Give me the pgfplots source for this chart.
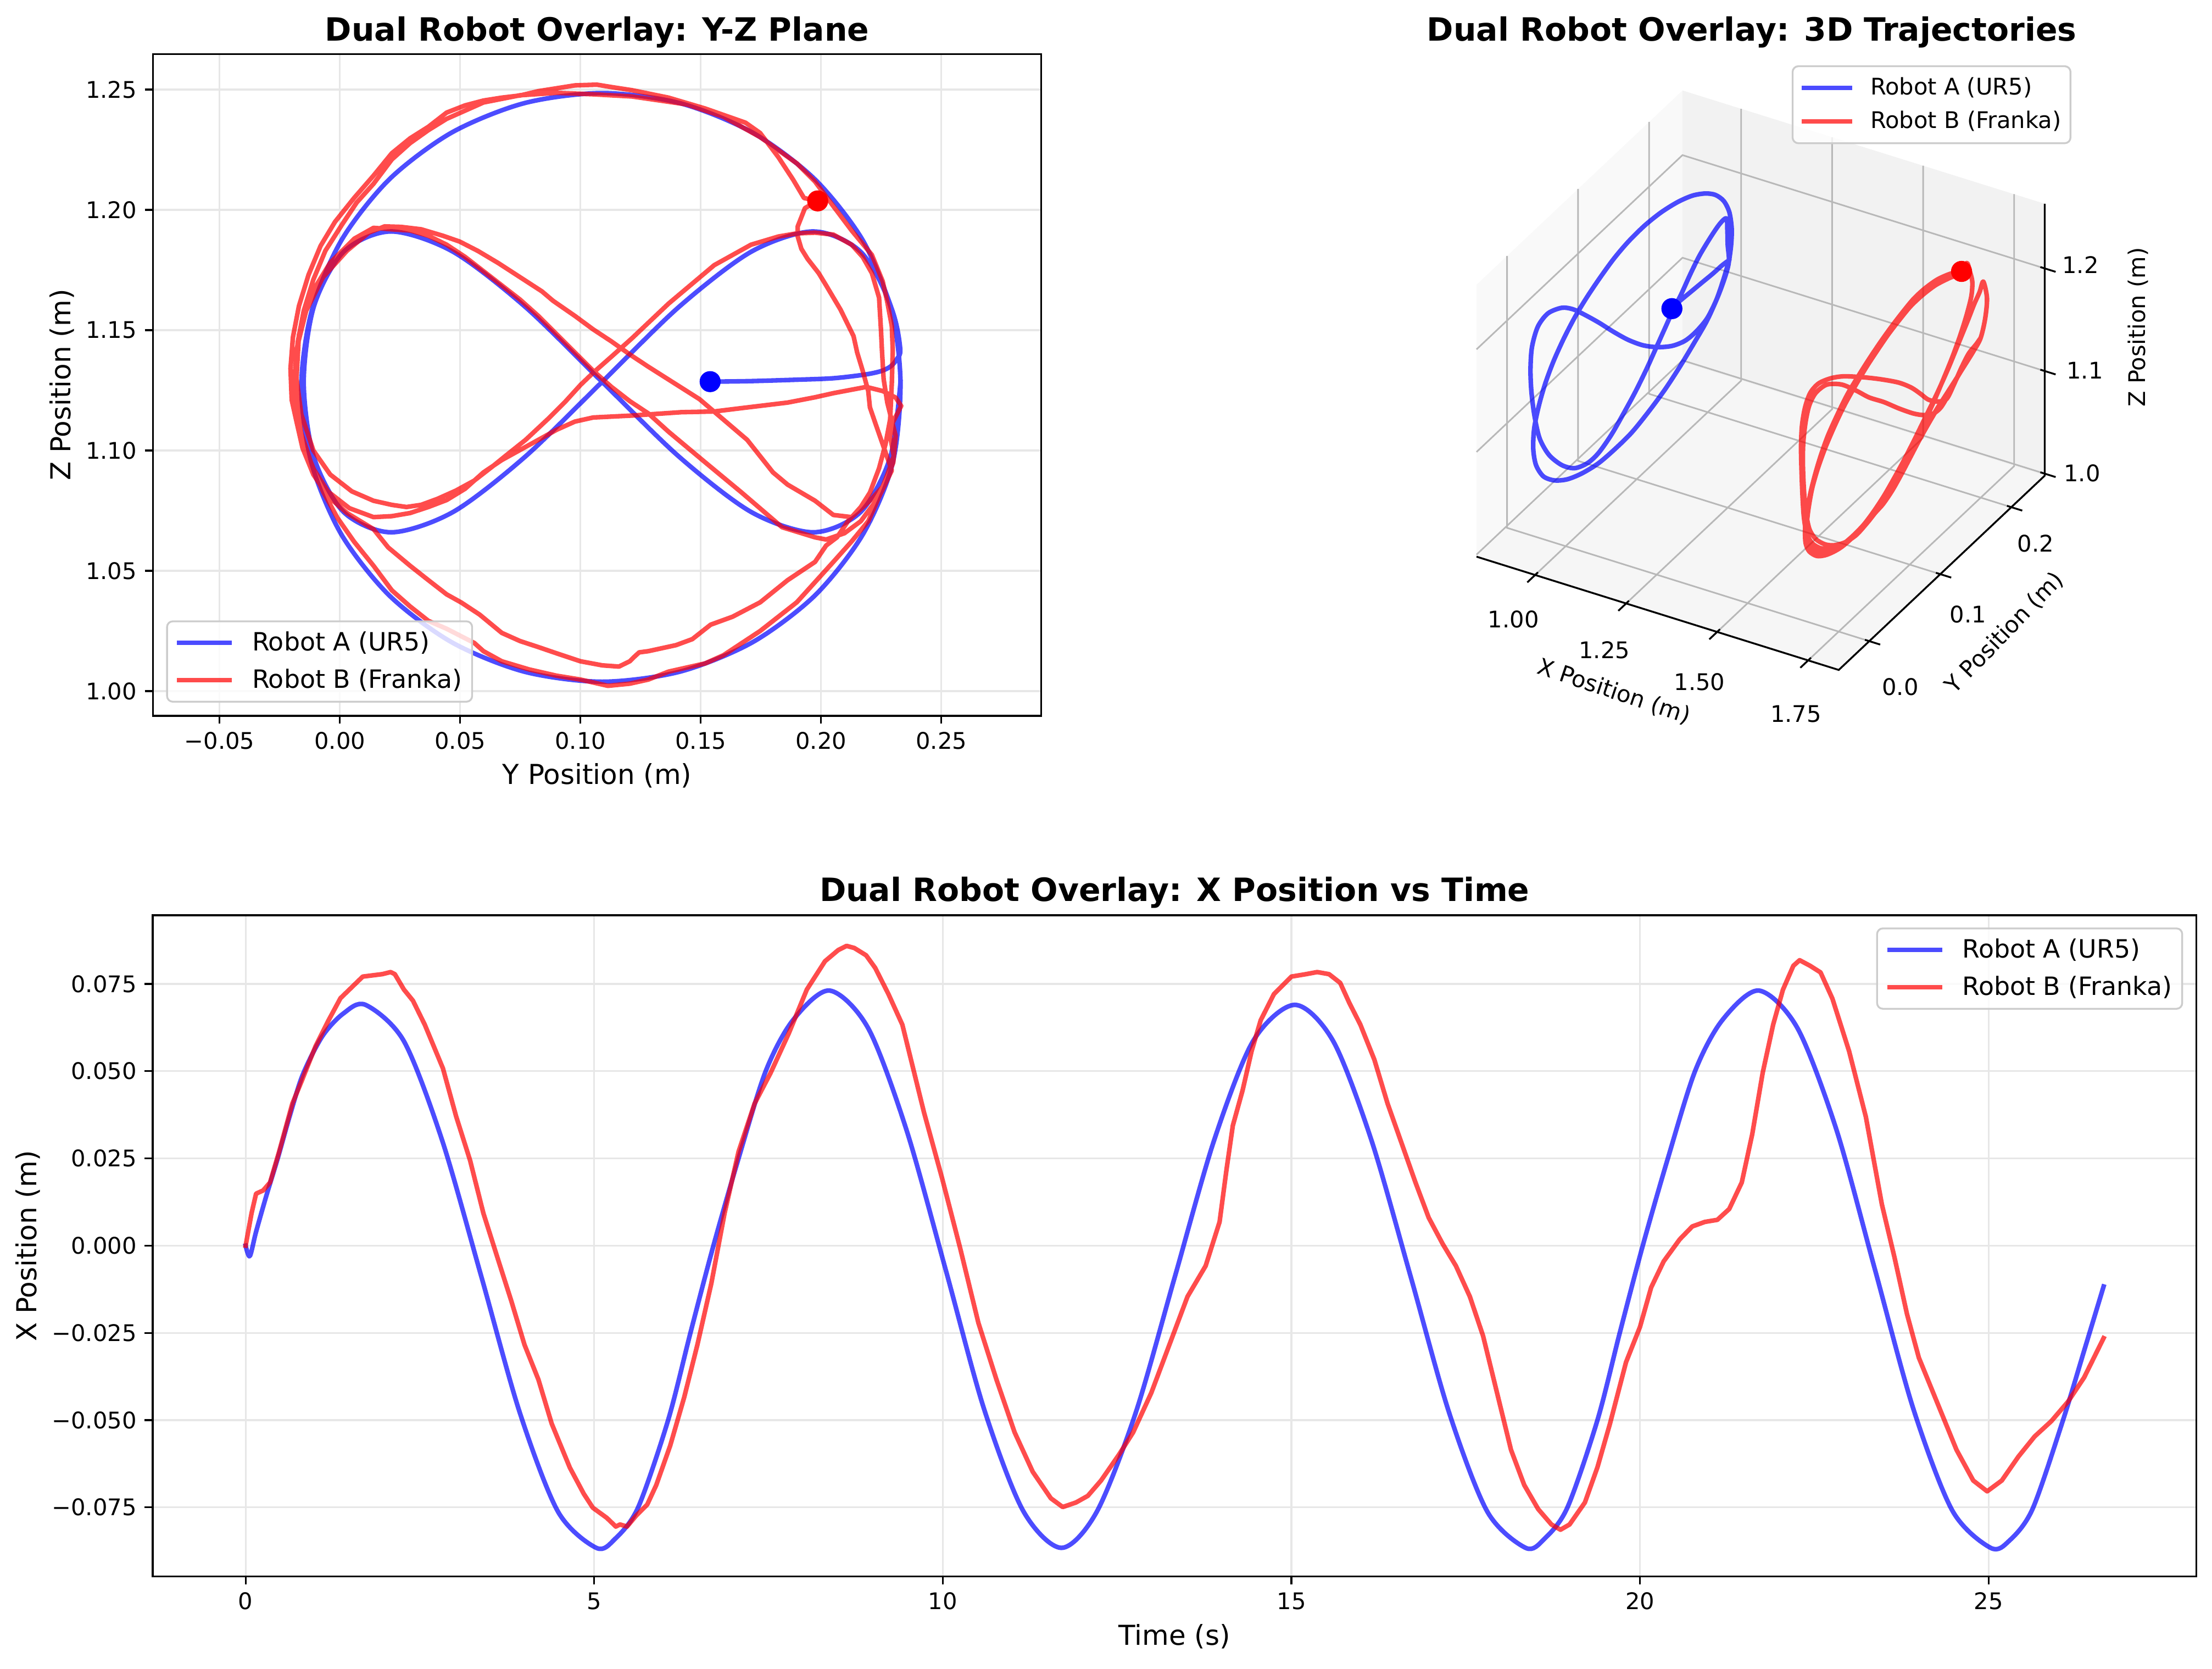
\documentclass[border=0pt]{standalone}
\usepackage{fontspec}
\setmainfont{DejaVu Sans}
\usepackage{pgfplots}
\pgfplotsset{compat=1.18}
\definecolor{mblue}{rgb}{0,0,1}
\definecolor{mred}{rgb}{1,0,0}
\definecolor{gridc}{rgb}{0.907,0.907,0.907}
\definecolor{grid3d}{rgb}{0.72,0.72,0.72}
\definecolor{paneX}{rgb}{0.975,0.975,0.975}
\definecolor{paneY}{rgb}{0.95,0.95,0.95}
\definecolor{paneZ}{rgb}{0.9625,0.9625,0.9625}
\definecolor{legframe}{rgb}{0.8,0.8,0.8}
\pgfplotsset{
  robA/.style={draw=mblue, draw opacity=0.7, line width=2pt, line join=round, line cap=rect, mark=none},
  robB/.style={draw=mred, draw opacity=0.7, line width=2pt, line join=round, line cap=rect, mark=none},
  mpl2d/.style={
    scale only axis,
    scaled ticks=false,
    axis line style={line width=0.8pt},
    tick align=outside, tick pos=left,
    major tick length=3.5pt,
    tick style={black, line width=0.8pt},
    tick label style={font=\fontsize{10}{12}\selectfont},
    grid=major,
    grid style={draw=gridc, line width=0.8pt},
    legend cell align=left,
    legend image code/.code={\draw[##1] (0pt,0pt) -- (22pt,0pt);},
    legend style={draw=legframe, line width=0.8pt, rounded corners=2.5pt, fill=white, fill opacity=0.8, text opacity=1, draw opacity=1, inner xsep=4.4pt, inner ysep=4.45pt, row sep=6.5pt, column sep=8.8pt, font=\fontsize{11}{13}\selectfont, nodes={inner sep=0pt, text depth=0.15em}, cells={anchor=west}},
  },
}
\begin{document}
\begin{tikzpicture}
\path[use as bounding box] (0pt,0pt) rectangle (966.48pt,728.88pt);

% ---------------- Y-Z plane ----------------
\begin{axis}[mpl2d,
  at={(66.79pt,416.18pt)}, anchor=south west,
  width=388.15pt, height=289.06pt,
  xmin=-0.0777, xmax=0.2915, ymin=0.98975, ymax=1.2647,
  xtick={-0.05,0,0.05,0.1,0.15,0.2,0.25},
  xticklabels={−0.05,0.00,0.05,0.10,0.15,0.20,0.25},
  ytick={1,1.05,1.1,1.15,1.2,1.25},
  yticklabels={1.00,1.05,1.10,1.15,1.20,1.25},
  legend style={at={(0.01494,0.01989)}, anchor=south west},
]
\addplot[robA, smooth] coordinates {
(0.1539,1.1286) (0.1700,1.1288) (0.1900,1.1294) (0.2050,1.1300) (0.2180,1.1315) (0.2250,1.1330) (0.2290,1.1350) (0.2315,1.1380) (0.2329,1.1422)
(0.2297,1.1579) (0.2173,1.1874) (0.1974,1.2127) (0.1715,1.2321) (0.1414,1.2443) (0.1090,1.2485) (0.0766,1.2443) (0.0465,1.2321) (0.0206,1.2127) (0.0007,1.1874) (-0.0117,1.1579) (-0.0160,1.1262) (-0.0117,1.0945) (0.0007,1.0650) (0.0206,1.0397) (0.0465,1.0203) (0.0766,1.0081) (0.1090,1.0039) (0.1414,1.0081) (0.1715,1.0203) (0.1974,1.0397) (0.2173,1.0650) (0.2297,1.0945)
(0.2330,1.1285) (0.2288,1.1598) (0.2164,1.1826) (0.1967,1.1910) (0.1710,1.1826) (0.1411,1.1598) (0.1090,1.1285) (0.0769,1.0973) (0.0470,1.0744) (0.0213,1.0660) (0.0016,1.0744) (-0.0108,1.0973) (-0.0150,1.1285) (-0.0108,1.1598) (0.0016,1.1826) (0.0213,1.1910) (0.0470,1.1826) (0.0769,1.1598) (0.1090,1.1285) (0.1411,1.0973) (0.1710,1.0744) (0.1967,1.0660) (0.2164,1.0744) (0.2288,1.0973) (0.2330,1.1285)
};
\addlegendentry{Robot A (UR5)}
\addplot[robB] coordinates {
(0.1986,1.2037) (0.1929,1.2049) (0.1884,1.2125) (0.1823,1.2218) (0.1747,1.2319) (0.1686,1.2362) (0.1518,1.2421) (0.1366,1.2466) (0.1214,1.2497) (0.1129,1.2510) (0.1068,1.2520) (0.0977,1.2517) (0.0901,1.2505) (0.0825,1.2493) (0.0749,1.2475) (0.0673,1.2466) (0.0597,1.2454) (0.0521,1.2434) (0.0444,1.2404) (0.0368,1.2345) (0.0292,1.2297) (0.0216,1.2235) (0.0140,1.2142)
(0.0060,1.2050) (-0.0020,1.1950) (-0.0080,1.1850) (-0.0130,1.1730) (-0.0170,1.1600) (-0.0195,1.1470) (-0.0205,1.1340) (-0.0200,1.1210) (-0.0180,1.1120) (-0.0155,1.1010) (-0.0110,1.0900) (-0.0050,1.0810) (0.0030,1.0740) (0.0140,1.0673)
(0.0201,1.0597) (0.0292,1.0521) (0.0368,1.0461) (0.0444,1.0402) (0.0505,1.0368) (0.0581,1.0318) (0.0673,1.0242) (0.0749,1.0208) (0.0825,1.0183) (0.0901,1.0157) (0.1000,1.0124) (0.1091,1.0107) (0.1160,1.0102) (0.1205,1.0124) (0.1221,1.0140) (0.1244,1.0161) (0.1282,1.0166) (0.1397,1.0191) (0.1465,1.0216) (0.1541,1.0276) (0.1632,1.0309) (0.1747,1.0369) (0.1861,1.0461) (0.1975,1.0537) (0.2021,1.0605) (0.2066,1.0639) (0.2112,1.0706) (0.2165,1.0765) (0.2203,1.0825) (0.2241,1.0926) (0.2268,1.1027) (0.2287,1.1129) (0.2294,1.1280) (0.2298,1.1416) (0.2294,1.1517) (0.2275,1.1618) (0.2256,1.1703) (0.2211,1.1813) (0.2127,1.1914) (0.2051,1.2015)
(0.1975,1.2117) (0.1899,1.2193) (0.1747,1.2302) (0.1594,1.2387) (0.1442,1.2438) (0.1214,1.2471) (0.1053,1.2480) (0.0901,1.2486) (0.0749,1.2476) (0.0597,1.2446) (0.0444,1.2378) (0.0368,1.2331) (0.0292,1.2277) (0.0216,1.2209) (0.0140,1.2108) (0.0070,1.2030) (0.0010,1.1940) (-0.0060,1.1830) (-0.0110,1.1710) (-0.0150,1.1580) (-0.0175,1.1450) (-0.0185,1.1320) (-0.0180,1.1190) (-0.0160,1.1070) (-0.0120,1.0950) (-0.0070,1.0830) (-0.0010,1.0720) (0.0060,1.0620) (0.0140,1.0521)
(0.0216,1.0419) (0.0292,1.0352) (0.0368,1.0292) (0.0444,1.0259) (0.0559,1.0200) (0.0597,1.0166) (0.0673,1.0124) (0.0787,1.0090) (0.0901,1.0064) (0.1000,1.0048) (0.1114,1.0022) (0.1205,1.0031) (0.1282,1.0048) (0.1366,1.0081) (0.1518,1.0115) (0.1594,1.0149) (0.1747,1.0250) (0.1899,1.0369) (0.1975,1.0453) (0.2051,1.0537) (0.2127,1.0622) (0.2196,1.0706) (0.2234,1.0791) (0.2279,1.0909) (0.2302,1.0977) (0.2287,1.1061) (0.2295,1.1110) (0.2317,1.1154) (0.2333,1.1185) (0.2310,1.1220)
(0.2256,1.1247) (0.2188,1.1264) (0.2051,1.1238) (0.1975,1.1221) (0.1861,1.1199) (0.1670,1.1176) (0.1556,1.1162) (0.1419,1.1159) (0.1214,1.1145) (0.1053,1.1137) (0.0977,1.1120) (0.0901,1.1086) (0.0825,1.1044) (0.0749,1.1002) (0.0673,1.0960) (0.0597,1.0909) (0.0521,1.0841) (0.0444,1.0794) (0.0368,1.0765) (0.0292,1.0740) (0.0216,1.0727) (0.0140,1.0723)
(0.0040,1.0760) (-0.0050,1.0830) (-0.0120,1.0940) (-0.0170,1.1080) (-0.0190,1.1250) (-0.0180,1.1420) (-0.0140,1.1580) (-0.0070,1.1720) (0.0030,1.1830) (0.0120,1.1905)
(0.0186,1.1931) (0.0254,1.1929) (0.0338,1.1919) (0.0429,1.1892) (0.0498,1.1868) (0.0574,1.1829) (0.0658,1.1779) (0.0749,1.1720) (0.0840,1.1661) (0.0886,1.1622) (0.0977,1.1559) (0.1053,1.1503) (0.1129,1.1453) (0.1205,1.1399) (0.1282,1.1348) (0.1495,1.1213) (0.1693,1.1044) (0.1800,1.0909) (0.1861,1.0858) (0.1975,1.0791) (0.2051,1.0732) (0.2127,1.0723) (0.2203,1.0791) (0.2264,1.0858) (0.2300,1.0950) (0.2310,1.1060) (0.2275,1.1200)
(0.2260,1.1297) (0.2253,1.1416) (0.2249,1.1500) (0.2241,1.1635) (0.2211,1.1737) (0.2173,1.1804) (0.2127,1.1855) (0.2051,1.1897) (0.1975,1.1905) (0.1899,1.1902) (0.1823,1.1889) (0.1709,1.1855) (0.1556,1.1770) (0.1366,1.1610) (0.1214,1.1466)
(0.1129,1.1390) (0.1053,1.1323) (0.1000,1.1272) (0.0939,1.1205) (0.0863,1.1129) (0.0772,1.1044) (0.0688,1.0977) (0.0635,1.0934) (0.0559,1.0875) (0.0482,1.0833) (0.0406,1.0799) (0.0338,1.0774) (0.0277,1.0765) (0.0216,1.0774) (0.0140,1.0791)
(0.0050,1.0830) (-0.0040,1.0900) (-0.0110,1.1000) (-0.0160,1.1150) (-0.0180,1.1300) (-0.0170,1.1480) (-0.0120,1.1650) (-0.0040,1.1780) (0.0060,1.1880) (0.0140,1.1925)
(0.0216,1.1919) (0.0292,1.1914) (0.0368,1.1892) (0.0444,1.1855) (0.0521,1.1804) (0.0597,1.1745) (0.0673,1.1686) (0.0749,1.1627) (0.0825,1.1559) (0.0901,1.1483) (0.0977,1.1407) (0.1053,1.1331) (0.1129,1.1264) (0.1205,1.1205) (0.1282,1.1154) (0.1366,1.1078) (0.1518,1.0951) (0.1670,1.0825) (0.1838,1.0681) (0.1975,1.0639) (0.2021,1.0630) (0.2097,1.0656) (0.2165,1.0706) (0.2241,1.0808) (0.2294,1.0917)
(0.2226,1.1112) (0.2203,1.1179) (0.2196,1.1247) (0.2173,1.1331) (0.2150,1.1407) (0.2135,1.1475) (0.2081,1.1585) (0.2021,1.1686) (0.1990,1.1737) (0.1944,1.1796) (0.1918,1.1838) (0.1903,1.1889) (0.1903,1.1931) (0.1933,1.2007) (0.1986,1.2037)
};
\addlegendentry{Robot B (Franka)}
\addplot[only marks, mark=*, mark size=4.4pt, color=mblue, forget plot] coordinates {(0.1539,1.1286)};
\addplot[only marks, mark=*, mark size=4.4pt, color=mred, forget plot] coordinates {(0.1986,1.2037)};
\end{axis}

% ---------------- X vs time ----------------
\begin{axis}[mpl2d,
  at={(66.72pt,40.18pt)}, anchor=south west,
  width=892.9pt, height=288.9pt,
  xmin=-1.333, xmax=27.98, ymin=-0.0948, ymax=0.0947,
  xtick={0,5,10,15,20,25}, xticklabels={0,5,10,15,20,25},
  ytick={-0.075,-0.05,-0.025,0,0.025,0.05,0.075},
  yticklabels={−0.075,−0.050,−0.025,0.000,0.025,0.050,0.075},
  legend style={at={(0.99355,0.98138)}, anchor=north east},
]
\addplot[robA, smooth] coordinates {
(0,0) (0.06,-0.003) (0.15,0.004) (0.3,0.0145) (0.46,0.025) (0.63,0.037) (0.82,0.049) (1.1,0.060) (1.4,0.0665) (1.72,0.069)
(2.27,0.0586) (2.82,0.0301) (3.38,-0.0088) (3.93,-0.0477) (4.48,-0.0762) (5.03,-0.0866)
(5.3,-0.084) (5.63,-0.075) (6.06,-0.05) (6.38,-0.025) (6.71,0) (7.07,0.025) (7.46,0.05) (7.85,0.0646) (8.375,0.0731)
(8.93,0.0623) (9.48,0.0331) (10.04,-0.0068) (10.59,-0.0467) (11.15,-0.0759) (11.70,-0.0866)
(12.21,-0.0762) (12.77,-0.0477) (13.33,-0.0088) (13.89,0.0301) (14.45,0.0586) (15.05,0.069)
(15.60,0.0586) (16.15,0.0301) (16.71,-0.0088) (17.26,-0.0477) (17.81,-0.0762) (18.36,-0.0866)
(18.63,-0.084) (18.96,-0.075) (19.39,-0.05) (19.71,-0.025) (20.04,0) (20.40,0.025) (20.79,0.05) (21.18,0.0646) (21.705,0.0731)
(22.26,0.0623) (22.82,0.0331) (23.37,-0.0068) (23.92,-0.0467) (24.48,-0.0759) (25.03,-0.0866)
(25.30,-0.0845) (25.63,-0.0755) (26.06,-0.0505) (26.38,-0.0295) (26.65,-0.0117)
};
\addlegendentry{Robot A (UR5)}
\addplot[robB] coordinates {
(0,0) (0.085,0.0093) (0.15,0.0149) (0.25,0.0158) (0.35,0.0181) (0.48,0.0269) (0.67,0.0407) (0.80,0.047) (1.0,0.057) (1.19,0.0646) (1.36,0.0709) (1.52,0.074) (1.68,0.0771) (1.96,0.0778) (2.08,0.0784) (2.14,0.0778) (2.27,0.0734) (2.40,0.0702) (2.57,0.0633) (2.83,0.0508) (3.02,0.037) (3.22,0.0244) (3.41,0.0093) (3.61,-0.0033) (3.81,-0.0158) (4.0,-0.0284) (4.20,-0.0384) (4.39,-0.051) (4.65,-0.0636) (4.85,-0.0711) (4.98,-0.0751) (5.18,-0.078) (5.31,-0.0805) (5.37,-0.0799) (5.47,-0.0805) (5.60,-0.0774) (5.76,-0.0742) (5.89,-0.0686) (6.09,-0.0573) (6.29,-0.0435) (6.48,-0.0284) (6.68,-0.0108) (6.87,0.0093) (7.07,0.0269) (7.30,0.0407) (7.53,0.0495) (7.79,0.0608) (8.05,0.0734) (8.31,0.0815) (8.5,0.0847) (8.62,0.0859) (8.73,0.0853) (8.90,0.0832) (9.03,0.0796) (9.22,0.0721) (9.42,0.0633) (9.73,0.0382) (9.99,0.0193) (10.25,-0.0008) (10.51,-0.0221) (10.77,-0.0384) (11.03,-0.0535) (11.29,-0.0648) (11.55,-0.0724) (11.72,-0.0749) (11.91,-0.0736) (12.08,-0.0717) (12.27,-0.0673) (12.53,-0.0598) (12.73,-0.0535) (12.99,-0.0422) (13.25,-0.0284) (13.51,-0.0146) (13.77,-0.0058) (13.97,0.0068) (14.07,0.0219) (14.16,0.0344) (14.30,0.0445) (14.43,0.0558) (14.56,0.0646) (14.75,0.0721) (15.0,0.0771) (15.21,0.0778) (15.37,0.0784) (15.54,0.0778) (15.70,0.0753) (15.83,0.0696) (15.99,0.0633) (16.19,0.0533) (16.38,0.0407) (16.58,0.0294) (16.78,0.0181) (16.97,0.008) (17.17,0.0005) (17.36,-0.0058) (17.56,-0.0146) (17.75,-0.0259) (17.95,-0.0422) (18.15,-0.0585) (18.34,-0.0686) (18.54,-0.0755) (18.73,-0.0799) (18.86,-0.0814) (18.99,-0.0799) (19.21,-0.0736) (19.39,-0.0635) (19.57,-0.051) (19.80,-0.0334) (20.0,-0.0233) (20.16,-0.012) (20.34,-0.0045) (20.57,0.0018) (20.75,0.0055) (20.93,0.0068) (21.11,0.0074) (21.28,0.0105) (21.46,0.0181) (21.61,0.0319) (21.76,0.0495) (21.91,0.0633) (22.05,0.0733) (22.20,0.0802) (22.29,0.0818) (22.44,0.0802) (22.59,0.0783) (22.76,0.0708) (23.0,0.0557) (23.24,0.0369) (23.47,0.0118) (23.65,-0.0033) (23.83,-0.0196) (24.0,-0.0321) (24.18,-0.0409) (24.36,-0.0497) (24.54,-0.0585) (24.78,-0.0673) (24.98,-0.0704) (25.19,-0.0673) (25.43,-0.0604) (25.66,-0.0547) (25.90,-0.0503) (26.14,-0.0447) (26.37,-0.0378) (26.65,-0.0265)
};
\addlegendentry{Robot B (Franka)}
\end{axis}

% ---------------- 3D ----------------
\begin{axis}[
  at={(645.12pt,436.20pt)}, anchor=south west,
  x={(159.05pt,-49.75pt)}, y={(310.34pt,292.63pt)}, z={(0pt,448.3pt)},
  xmin=0.839, xmax=1.834, ymin=-0.043, ymax=0.247, zmin=0.998, zmax=1.263,
  hide axis, clip=false,
  legend cell align=left,
  legend image code/.code={\draw[#1] (0pt,0pt) -- (20pt,0pt);},
  legend style={at={(1.0470,1.0434)}, anchor=north east, draw=legframe, line width=0.8pt, rounded corners=2.5pt, fill=white, fill opacity=0.8, text opacity=1, draw opacity=1, inner xsep=4.05pt, inner ysep=4.97pt, row sep=5.5pt, column sep=7.95pt, font=\fontsize{10}{12}\selectfont, nodes={inner sep=0pt, text depth=0.15em}, cells={anchor=west}},
]
\fill[paneX] (axis cs:0.839,-0.043,0.998) -- (axis cs:0.839,0.247,0.998) -- (axis cs:0.839,0.247,1.263) -- (axis cs:0.839,-0.043,1.263) -- cycle;
\fill[paneY] (axis cs:0.839,0.247,0.998) -- (axis cs:1.834,0.247,0.998) -- (axis cs:1.834,0.247,1.263) -- (axis cs:0.839,0.247,1.263) -- cycle;
\fill[paneZ] (axis cs:0.839,-0.043,0.998) -- (axis cs:1.834,-0.043,0.998) -- (axis cs:1.834,0.247,0.998) -- (axis cs:0.839,0.247,0.998) -- cycle;
\draw[grid3d, line width=0.7pt] (axis cs:1,-0.043,0.998) -- (axis cs:1,0.247,0.998) -- (axis cs:1,0.247,1.263);
\draw[grid3d, line width=0.7pt] (axis cs:1.25,-0.043,0.998) -- (axis cs:1.25,0.247,0.998) -- (axis cs:1.25,0.247,1.263);
\draw[grid3d, line width=0.7pt] (axis cs:1.5,-0.043,0.998) -- (axis cs:1.5,0.247,0.998) -- (axis cs:1.5,0.247,1.263);
\draw[grid3d, line width=0.7pt] (axis cs:1.75,-0.043,0.998) -- (axis cs:1.75,0.247,0.998) -- (axis cs:1.75,0.247,1.263);
\draw[grid3d, line width=0.7pt] (axis cs:1.834,0,0.998) -- (axis cs:0.839,0,0.998) -- (axis cs:0.839,0,1.263);
\draw[grid3d, line width=0.7pt] (axis cs:1.834,0.1,0.998) -- (axis cs:0.839,0.1,0.998) -- (axis cs:0.839,0.1,1.263);
\draw[grid3d, line width=0.7pt] (axis cs:1.834,0.2,0.998) -- (axis cs:0.839,0.2,0.998) -- (axis cs:0.839,0.2,1.263);
\draw[grid3d, line width=0.7pt] (axis cs:0.839,-0.043,1) -- (axis cs:0.839,0.247,1) -- (axis cs:1.834,0.247,1);
\draw[grid3d, line width=0.7pt] (axis cs:0.839,-0.043,1.1) -- (axis cs:0.839,0.247,1.1) -- (axis cs:1.834,0.247,1.1);
\draw[grid3d, line width=0.7pt] (axis cs:0.839,-0.043,1.2) -- (axis cs:0.839,0.247,1.2) -- (axis cs:1.834,0.247,1.2);
\draw[black, line width=0.8pt] (axis cs:0.839,-0.043,0.998) -- (axis cs:1.834,-0.043,0.998) -- (axis cs:1.834,0.247,0.998) -- (axis cs:1.834,0.247,1.263);
\draw[black, line width=0.8pt] (axis cs:1,-0.039,0.998) -- (axis cs:1,-0.054,0.998);
\draw[black, line width=0.8pt] (axis cs:1.25,-0.039,0.998) -- (axis cs:1.25,-0.054,0.998);
\draw[black, line width=0.8pt] (axis cs:1.5,-0.039,0.998) -- (axis cs:1.5,-0.054,0.998);
\draw[black, line width=0.8pt] (axis cs:1.75,-0.039,0.998) -- (axis cs:1.75,-0.054,0.998);
\draw[black, line width=0.8pt] (axis cs:1.822,0,0.998) -- (axis cs:1.864,0,0.998);
\draw[black, line width=0.8pt] (axis cs:1.822,0.1,0.998) -- (axis cs:1.864,0.1,0.998);
\draw[black, line width=0.8pt] (axis cs:1.822,0.2,0.998) -- (axis cs:1.864,0.2,0.998);
\draw[black, line width=0.8pt] (axis cs:1.822,0.247,1) -- (axis cs:1.864,0.247,1);
\draw[black, line width=0.8pt] (axis cs:1.822,0.247,1.1) -- (axis cs:1.864,0.247,1.1);
\draw[black, line width=0.8pt] (axis cs:1.822,0.247,1.2) -- (axis cs:1.864,0.247,1.2);
\addplot3[robA, smooth] coordinates {
(0.99,0.1547,1.1274) (0.99,0.1656,1.1276) (0.99,0.1811,1.1264) (0.99,0.1967,1.1252) (0.99,0.2122,1.1239) (0.99,0.2251,1.1235) (0.99,0.2330,1.1224)
(0.99,0.2350,1.1213) (0.99,0.2381,1.1351) (0.99,0.2389,1.1505) (0.99,0.2356,1.1685) (0.99,0.2278,1.1845) (0.99,0.2161,1.1981) (0.99,0.2019,1.2088) (0.99,0.1837,1.2186) (0.99,0.1630,1.2259) (0.99,0.1397,1.2311) (0.99,0.1164,1.2334) (0.99,0.0931,1.2327) (0.99,0.0724,1.2293) (0.99,0.0517,1.2230) (0.99,0.0335,1.2160) (0.99,0.0180,1.2082) (0.99,0.0023,1.1975) (0.99,-0.0120,1.1849) (0.99,-0.0237,1.1707) (0.99,-0.0327,1.1549) (0.99,-0.0392,1.1372) (0.99,-0.0405,1.1181) (0.99,-0.0366,1.0998) (0.99,-0.0262,1.0820) (0.99,-0.0107,1.0680) (0.99,0.0075,1.0572) (0.99,0.0282,1.0495) (0.99,0.0515,1.0442) (0.99,0.0748,1.0429) (0.99,0.0981,1.0436) (0.99,0.1214,1.0483) (0.99,0.1447,1.0549) (0.99,0.1654,1.0633) (0.99,0.1861,1.0736) (0.99,0.2043,1.0836) (0.99,0.2198,1.0973) (0.99,0.2302,1.1104) (0.99,0.2350,1.1213)
(0.99,0.2333,1.1381) (0.99,0.2328,1.1523) (0.99,0.2315,1.1652) (0.99,0.2224,1.1661) (0.99,0.2095,1.1616) (0.99,0.1939,1.1539) (0.99,0.1810,1.1444) (0.99,0.1680,1.1331) (0.99,0.1564,1.1248) (0.99,0.1447,1.1145) (0.99,0.1318,1.1031) (0.99,0.1188,1.0917) (0.99,0.1033,1.0800) (0.99,0.0877,1.0703) (0.99,0.0696,1.0602) (0.99,0.0515,1.0542) (0.99,0.0360,1.0544) (0.99,0.0178,1.0613) (0.99,-0.0003,1.0761) (0.99,-0.0184,1.0979) (0.99,-0.0314,1.1222) (0.99,-0.0387,1.1488) (0.99,-0.0431,1.1755) (0.99,-0.0444,1.1982) (0.99,-0.0423,1.2186) (0.99,-0.0340,1.2331) (0.99,-0.0198,1.2367) (0.99,-0.0003,1.2294) (0.99,0.0152,1.2179) (0.99,0.0307,1.2028) (0.99,0.0515,1.1813) (0.99,0.0722,1.1588) (0.99,0.0929,1.1374) (0.99,0.1137,1.1185) (0.99,0.1344,1.1031) (0.99,0.1552,1.0908) (0.99,0.1733,1.0840) (0.99,0.1889,1.0828) (0.99,0.2043,1.0856) (0.99,0.2172,1.0950) (0.99,0.2263,1.1070) (0.99,0.2315,1.1155) (0.99,0.2350,1.1213)
};
\addlegendentry{Robot A (UR5)}
\addplot3[robB, smooth, tension=0.5] coordinates {
(1.70,0.1986,1.2138) (1.70,0.1826,1.2219) (1.70,0.1644,1.2282) (1.70,0.1463,1.2310) (1.70,0.1307,1.2311) (1.70,0.1152,1.2282) (1.70,0.0996,1.2243) (1.70,0.0841,1.2194) (1.70,0.0685,1.2135) (1.70,0.0530,1.2066) (1.70,0.0374,1.1986) (1.70,0.0232,1.1879) (1.70,0.0102,1.1763) (1.70,-0.0001,1.1630) (1.70,-0.0079,1.1500) (1.70,-0.0144,1.1362) (1.70,-0.0191,1.1211) (1.70,-0.0217,1.1067) (1.70,-0.0209,1.0922) (1.70,-0.0157,1.0807) (1.70,-0.0053,1.0696) (1.70,0.0063,1.0627) (1.70,0.0180,1.0583) (1.70,0.0297,1.0555) (1.70,0.0426,1.0547) (1.70,0.0556,1.0553) (1.70,0.0685,1.0569) (1.70,0.0815,1.0604) (1.70,0.0945,1.0671) (1.70,0.1074,1.0746) (1.70,0.1204,1.0833) (1.70,0.1333,1.0919) (1.70,0.1463,1.1014) (1.70,0.1592,1.1121) (1.70,0.1722,1.1247) (1.70,0.1852,1.1383) (1.70,0.1968,1.1528) (1.70,0.2059,1.1670) (1.70,0.2124,1.1808) (1.70,0.2137,1.1940) (1.70,0.2098,1.2075) (1.70,0.2059,1.2172)
(1.70,0.1955,1.2139) (1.70,0.1800,1.2190) (1.70,0.1618,1.2243) (1.70,0.1437,1.2266) (1.70,0.1268,1.2266) (1.70,0.1113,1.2237) (1.70,0.0957,1.2198) (1.70,0.0802,1.2143) (1.70,0.0646,1.2080) (1.70,0.0491,1.2001) (1.70,0.0335,1.1908) (1.70,0.0193,1.1794) (1.70,0.0063,1.1667) (1.70,-0.0040,1.1535) (1.70,-0.0118,1.1395) (1.70,-0.0170,1.1228) (1.70,-0.0196,1.1064) (1.70,-0.0180,1.0928) (1.70,-0.0113,1.0803) (1.70,0.0006,1.0685) (1.70,0.0146,1.0609) (1.70,0.0297,1.0572) (1.70,0.0452,1.0560) (1.70,0.0608,1.0569) (1.70,0.0750,1.0607) (1.70,0.0893,1.0664) (1.70,0.1035,1.0742) (1.70,0.1178,1.0829) (1.70,0.1333,1.0939) (1.70,0.1489,1.1058) (1.70,0.1644,1.1177) (1.70,0.1800,1.1316) (1.70,0.1942,1.1464) (1.70,0.2072,1.1600) (1.70,0.2163,1.1702) (1.70,0.2240,1.1771) (1.70,0.2292,1.1839) (1.70,0.2344,1.1644) (1.70,0.2318,1.1460)
(1.70,0.2253,1.1312) (1.70,0.2150,1.1249) (1.70,0.2033,1.1195) (1.70,0.1903,1.1138) (1.70,0.1774,1.1082) (1.70,0.1644,1.1027) (1.70,0.1515,1.0960) (1.70,0.1385,1.0885) (1.70,0.1256,1.0799) (1.70,0.1126,1.0712) (1.70,0.0996,1.0637) (1.70,0.0867,1.0591) (1.70,0.0763,1.0578) (1.70,0.0634,1.0552) (1.70,0.0478,1.0544) (1.70,0.0323,1.0575) (1.70,0.0167,1.0636) (1.70,0.0012,1.0727) (1.70,-0.0118,1.0863) (1.70,-0.0196,1.1014) (1.70,-0.0235,1.1200) (1.70,-0.0255,1.1435) (1.70,-0.0268,1.1684) (1.70,-0.0274,1.1907) (1.70,-0.0261,1.2100) (1.70,-0.0217,1.2252) (1.70,-0.0144,1.2345) (1.70,-0.0027,1.2360) (1.70,0.0141,1.2300) (1.70,0.0323,1.2201) (1.70,0.0582,1.2024) (1.70,0.0841,1.1835) (1.70,0.1100,1.1633) (1.70,0.1281,1.1465) (1.70,0.1411,1.1319) (1.70,0.1515,1.1197) (1.70,0.1644,1.1093) (1.70,0.1774,1.1032) (1.70,0.1878,1.1105) (1.70,0.1981,1.1198) (1.70,0.2085,1.1271) (1.70,0.2189,1.1293) (1.70,0.2253,1.1312)
(1.70,0.2163,1.1260) (1.70,0.2046,1.1206) (1.70,0.1916,1.1140) (1.70,0.1787,1.1084) (1.70,0.1657,1.1028) (1.70,0.1528,1.0962) (1.70,0.1398,1.0887) (1.70,0.1268,1.0800) (1.70,0.1139,1.0714) (1.70,0.1009,1.0639) (1.70,0.0880,1.0592) (1.70,0.0776,1.0580) (1.70,0.0660,1.0555) (1.70,0.0504,1.0537) (1.70,0.0348,1.0568) (1.70,0.0193,1.0640) (1.70,0.0063,1.0734) (1.70,-0.0066,1.0869) (1.70,-0.0157,1.1028) (1.70,-0.0209,1.1243) (1.70,-0.0235,1.1481) (1.70,-0.0248,1.1731) (1.70,-0.0242,1.1928) (1.70,-0.0209,1.2106) (1.70,-0.0157,1.2233) (1.70,-0.0066,1.2294) (1.70,0.0089,1.2273) (1.70,0.0297,1.2138) (1.70,0.0504,1.1943) (1.70,0.0685,1.1759) (1.70,0.0893,1.1578) (1.70,0.1100,1.1382) (1.70,0.1307,1.1197) (1.70,0.1463,1.1079) (1.70,0.1592,1.1011) (1.70,0.1696,1.1003) (1.70,0.1800,1.1055) (1.70,0.1903,1.1128) (1.70,0.2007,1.1202) (1.70,0.2111,1.1254) (1.70,0.2214,1.1286)
};
\addlegendentry{Robot B (Franka)}
\addplot3[only marks, mark=*, mark size=4.4pt, color=mblue, forget plot] coordinates {(0.99,0.1547,1.1274)};
\addplot3[only marks, mark=*, mark size=4.4pt, color=mred, forget plot] coordinates {(1.70,0.1986,1.2138)};
\end{axis}

% ---------------- titles and labels ----------------
\begin{scope}[every node/.style={inner sep=0pt}]
\node[anchor=base, font=\bfseries\fontsize{14}{16.8}\selectfont] at (260.88pt,711.1pt) {Dual Robot Overlay: Y-Z Plane};
\node[anchor=base, font=\bfseries\fontsize{14}{16.8}\selectfont] at (765.38pt,711.1pt) {Dual Robot Overlay: 3D Trajectories};
\node[anchor=base, font=\bfseries\fontsize{14}{16.8}\selectfont] at (513.17pt,335.06pt) {Dual Robot Overlay: X Position vs Time};
\node[anchor=base, font=\fontsize{12}{14.4}\selectfont] at (260.88pt,386.28pt) {Y Position (m)};
\node[anchor=base, rotate=90, font=\fontsize{12}{14.4}\selectfont] at (30.84pt,560.71pt) {Z Position (m)};
\node[anchor=base, font=\fontsize{12}{14.4}\selectfont] at (513.17pt,10.18pt) {Time (s)};
\node[anchor=base, rotate=90, font=\fontsize{12}{14.4}\selectfont] at (15.96pt,184.62pt) {X Position (m)};
\node[font=\fontsize{10}{12}\selectfont] at (661.25pt,458.40pt) {1.00};
\node[font=\fontsize{10}{12}\selectfont] at (700.99pt,444.91pt) {1.25};
\node[font=\fontsize{10}{12}\selectfont] at (742.58pt,430.97pt) {1.50};
\node[font=\fontsize{10}{12}\selectfont] at (784.68pt,417.05pt) {1.75};
\node[font=\fontsize{10}{12}\selectfont] at (830.26pt,428.83pt) {0.0};
\node[font=\fontsize{10}{12}\selectfont] at (859.94pt,460.56pt) {0.1};
\node[font=\fontsize{10}{12}\selectfont] at (889.39pt,491.42pt) {0.2};
\node[font=\fontsize{10}{12}\selectfont] at (909.74pt,522.07pt) {1.0};
\node[font=\fontsize{10}{12}\selectfont] at (910.90pt,567.07pt) {1.1};
\node[font=\fontsize{10}{12}\selectfont] at (909.02pt,613.15pt) {1.2};
\node[rotate=-18.5, font=\fontsize{10}{12}\selectfont] at (705.19pt,426.70pt) {X Position (m)};
\node[rotate=46, font=\fontsize{10}{12}\selectfont] at (875.83pt,452.40pt) {Y Position (m)};
\node[rotate=90, font=\fontsize{10}{12}\selectfont] at (934.27pt,585.94pt) {Z Position (m)};
\end{scope}
\end{tikzpicture}
\end{document}
